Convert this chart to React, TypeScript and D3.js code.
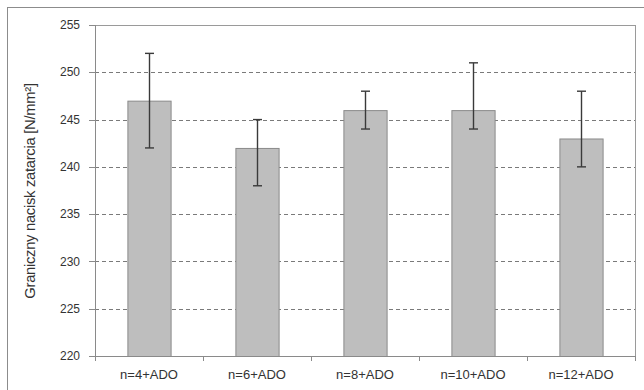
import React from "react";
import * as d3 from "d3";

const categories = ["n=4+ADO", "n=6+ADO", "n=8+ADO", "n=10+ADO", "n=12+ADO"];
const values = [247, 242, 246, 246, 243];
const errLow = [242, 238, 244, 244, 240];
const errHigh = [252, 245, 248, 251, 248];
const yTicks = [220, 225, 230, 235, 240, 245, 250, 255];
const yTitle = "Graniczny nacisk zatarcia [N/mm²]";

const W = 644, H = 390;
const M = { left: 95, top: 25, right: 635, bottom: 356 };

export default function App() {
  const x = d3.scaleBand<string>().domain(categories).range([M.left, M.right]).paddingInner(0.6).paddingOuter(0.3);
  const xb = d3.scaleBand<string>().domain(categories).range([M.left, M.right]);
  const y = d3.scaleLinear().domain([220, 255]).range([M.bottom, M.top]);
  const font = "Liberation Sans, Arial, sans-serif";
  return (
    <svg width={W} height={H} style={{ position: "absolute", left: 0, top: 0, background: "#fff" }}>
      <rect x={7.5} y={7.5} width={W} height={H} fill="#fff" stroke="#8c8c8c" strokeWidth={1} />
      {yTicks.slice(1, -1).map((t) => (
        <line key={t} x1={M.left} x2={M.right} y1={Math.round(y(t)) + 0.5} y2={Math.round(y(t)) + 0.5} stroke="#7a7a7a" strokeDasharray="4,3" strokeWidth={1} />
      ))}
      <line x1={M.left} x2={M.right} y1={M.top + 0.5} y2={M.top + 0.5} stroke="#9a9a9a" />
      <line x1={M.right + 0.5} x2={M.right + 0.5} y1={M.top} y2={M.bottom} stroke="#9a9a9a" />
      {categories.map((c, i) => (
        <rect key={c} x={x(c)! + 0.5} y={y(values[i]) + 0.5} width={x.bandwidth()} height={M.bottom - y(values[i])} fill="#bebebe" stroke="#8a8a8a" strokeWidth={1} />
      ))}
      {categories.map((c, i) => {
        const cx = Math.round(x(c)! + x.bandwidth() / 2) + 0.5;
        return (
          <g key={c} stroke="#3a3a3a" strokeWidth={1.4}>
            <line x1={cx} x2={cx} y1={y(errHigh[i])} y2={y(errLow[i])} />
            <line x1={cx - 4.5} x2={cx + 4.5} y1={y(errHigh[i])} y2={y(errHigh[i])} />
            <line x1={cx - 4.5} x2={cx + 4.5} y1={y(errLow[i])} y2={y(errLow[i])} />
          </g>
        );
      })}
      <line x1={M.left + 0.5} x2={M.left + 0.5} y1={M.top} y2={M.bottom} stroke="#8a8a8a" />
      <line x1={M.left} x2={M.right} y1={M.bottom + 0.5} y2={M.bottom + 0.5} stroke="#8a8a8a" />
      {yTicks.map((t) => (
        <g key={t}>
          <line x1={M.left - 6} x2={M.left} y1={Math.round(y(t)) + 0.5} y2={Math.round(y(t)) + 0.5} stroke="#8a8a8a" />
          <text x={80} y={y(t)} dy="0.35em" textAnchor="end" fontFamily={font} fontSize={12} fill="#333">{t}</text>
        </g>
      ))}
      {categories.map((c, i) => (
        <line key={"t" + c} x1={Math.round(xb(c)!) + 0.5} x2={Math.round(xb(c)!) + 0.5} y1={M.bottom} y2={M.bottom + 5} stroke="#8a8a8a" />
      ))}
      <line x1={M.right + 0.5} x2={M.right + 0.5} y1={M.bottom} y2={M.bottom + 5} stroke="#8a8a8a" />
      {categories.map((c) => (
        <text key={"l" + c} x={xb(c)! + xb.bandwidth() / 2} y={379} textAnchor="middle" fontFamily={font} fontSize={13} fill="#333">{c}</text>
      ))}
      <text transform={`translate(35,191) rotate(-90)`} textAnchor="middle" fontFamily={font} fontSize={14.8} fill="#333" letterSpacing={-0.3}>{yTitle}</text>
    </svg>
  );
}
